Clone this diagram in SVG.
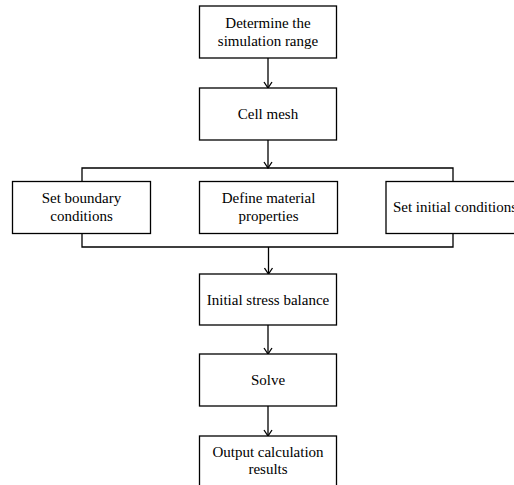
<svg xmlns="http://www.w3.org/2000/svg" width="514" height="485" viewBox="0 0 514 485">
<style>
.box{fill:#fff;stroke:#000;stroke-width:1.3}
.ln{fill:none;stroke:#000;stroke-width:1.3}
text{font-family:"Liberation Serif","Times New Roman",serif;font-size:15px;fill:#000;text-anchor:middle}
</style>
<defs>
<marker id="ah" markerWidth="8" markerHeight="10" refX="7" refY="5" orient="auto" markerUnits="userSpaceOnUse" viewBox="0 0 8 10">
<polyline points="1,1 7,5 1,9" fill="none" stroke="#000" stroke-width="1.3"/>
</marker>
</defs>
<g id="connectors">
<line class="ln" x1="268" y1="58" x2="268" y2="88" marker-end="url(#ah)"/>
<line class="ln" x1="268" y1="140" x2="268" y2="168" marker-end="url(#ah)"/>
<path class="ln" d="M82,181.5 V168 H453 V181.5"/>
<path class="ln" d="M82,233.5 V247 H453 V233.5"/>
<line class="ln" x1="268.5" y1="247" x2="268.5" y2="274" marker-end="url(#ah)"/>
<line class="ln" x1="268" y1="325" x2="268" y2="354" marker-end="url(#ah)"/>
<line class="ln" x1="268" y1="406" x2="268" y2="436" marker-end="url(#ah)"/>
</g>
<g id="n1"><rect class="box" x="199.5" y="6" width="137" height="52"/><text x="268" y="28">Determine the</text><text x="268" y="46">simulation range</text></g>
<g id="n2"><rect class="box" x="199.5" y="88" width="137" height="52"/><text x="268" y="119">Cell mesh</text></g>
<g id="n3"><rect class="box" x="12.5" y="181.5" width="138" height="52"/><text x="81.5" y="203">Set boundary</text><text x="81.5" y="221">conditions</text></g>
<g id="n4"><rect class="box" x="199.5" y="181.5" width="138" height="52"/><text x="268.5" y="203">Define material</text><text x="268.5" y="221">properties</text></g>
<g id="n5"><rect class="box" x="386" y="181.5" width="138" height="52"/><text x="455" y="212">Set initial conditions</text></g>
<g id="n6"><rect class="box" x="199.5" y="274" width="137" height="51"/><text x="268" y="305">Initial stress balance</text></g>
<g id="n7"><rect class="box" x="199.5" y="354" width="137" height="52"/><text x="268" y="385">Solve</text></g>
<g id="n8"><rect class="box" x="199.5" y="436" width="137" height="52"/><text x="268" y="457">Output calculation</text><text x="268" y="474">results</text></g>
</svg>
